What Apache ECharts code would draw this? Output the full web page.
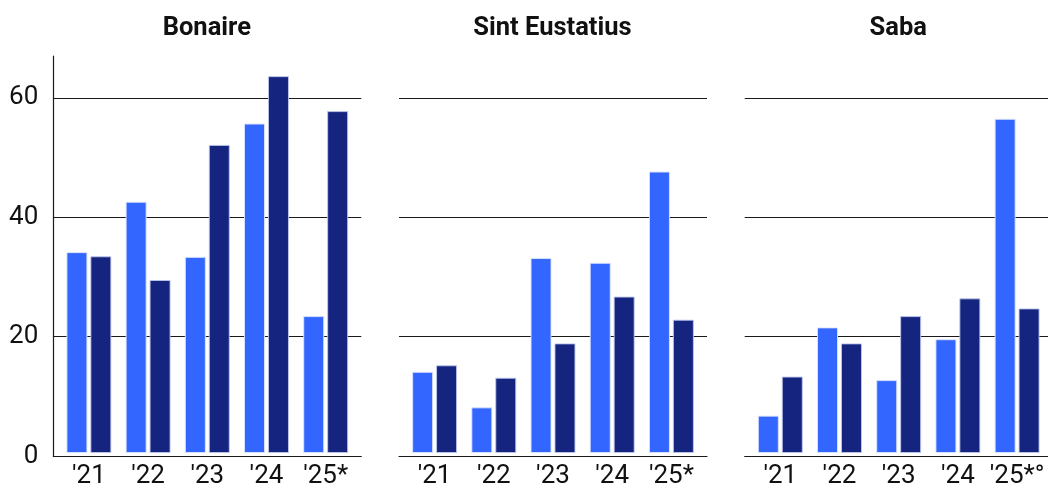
<!DOCTYPE html>
<html>
<head>
<meta charset="utf-8">
<script src="https://cdn.jsdelivr.net/npm/echarts@6/dist/echarts.min.js"></script>
<style>
html,body{margin:0;padding:0;background:#fff;}
#chart{width:1048px;height:489px;}
</style>
</head>
<body>
<div id="chart"></div>
<script>
// ---- data ----
const panelTitles = ['Bonaire', 'Sint Eustatius', 'Saba'];
const categoriesBonaire = ["'21", "'22", "'23", "'24", "'25*"];
const categoriesStatia = ["'21", "'22", "'23", "'24", "'25*"];
const categoriesSaba = ["'21", "'22", "'23", "'24", "'25*°"];
const bonaireLight = [33.9, 42.4, 33.1, 55.6, 23.1];
const bonaireDark = [33.2, 29.2, 52.0, 63.6, 57.7];
const statiaLight = [13.7, 7.7, 32.9, 32.1, 47.5];
const statiaDark = [14.8, 12.7, 18.5, 26.4, 22.5];
const sabaLight = [6.3, 21.2, 12.3, 19.2, 56.4];
const sabaDark = [12.9, 18.5, 23.1, 26.1, 24.4];
const yTicks = [0, 20, 40, 60];

// ---- layout / styles ----
const panelLefts = [53.3, 399, 744.7];
const panelWidth = 308;
const innerPad = 6;
const gridTop = 56, gridHeight = 400;
const yMax = 67;
const lightColor = '#3366FF';
const darkColor = '#14247F';
const lineColor = '#1a1a1a';
const textColor = '#111111';
const fontFamily = 'Roboto, "Noto Sans", sans-serif';

const panels = [
  {cats: categoriesBonaire, light: bonaireLight, dark: bonaireDark},
  {cats: categoriesStatia, light: statiaLight, dark: statiaDark},
  {cats: categoriesSaba, light: sabaLight, dark: sabaDark}
];

const grids = [], xAxes = [], yAxes = [], series = [], titles = [];
panels.forEach((p, i) => {
  const L = panelLefts[i];
  grids.push({left: L, top: gridTop, width: panelWidth, height: gridHeight, containLabel: false});
  grids.push({left: L + innerPad, top: gridTop, width: panelWidth - 2 * innerPad, height: gridHeight, containLabel: false});
  const gBg = i * 2, gIn = i * 2 + 1;
  xAxes.push({
    gridIndex: gBg, type: 'value', min: 0, max: 1,
    axisLine: {show: true, onZero: true, lineStyle: {color: lineColor, width: 1.2}},
    axisTick: {show: false}, axisLabel: {show: false}, splitLine: {show: false}
  });
  yAxes.push({
    gridIndex: gBg, type: 'value', min: 0, max: yMax, interval: 20,
    axisLine: {show: i === 0, lineStyle: {color: lineColor, width: 1.2}},
    axisTick: {show: false},
    axisLabel: {
      show: i === 0, showMaxLabel: false, margin: 15,
      color: textColor, fontSize: 26, fontFamily: fontFamily,
      formatter: v => (yTicks.indexOf(v) >= 0 ? String(v) : '')
    },
    splitLine: {show: true, showMinLine: false, showMaxLine: false, lineStyle: {color: lineColor, width: 1.2}}
  });
  xAxes.push({
    gridIndex: gIn, type: 'category', data: p.cats,
    axisLine: {show: false}, axisTick: {show: false},
    axisLabel: {color: textColor, fontSize: 26, fontFamily: fontFamily, margin: 10, interval: 0},
    splitLine: {show: false}
  });
  yAxes.push({
    gridIndex: gIn, type: 'value', min: 0, max: yMax, show: false, splitLine: {show: false}
  });
  series.push({
    type: 'bar', xAxisIndex: gIn, yAxisIndex: gIn, data: p.light,
    barWidth: 21, barGap: '14%',
    itemStyle: {color: lightColor, borderColor: 'rgba(220,228,255,0.9)', borderWidth: 1},
    z: 3, silent: true
  });
  series.push({
    type: 'bar', xAxisIndex: gIn, yAxisIndex: gIn, data: p.dark,
    barWidth: 21, barGap: '14%',
    itemStyle: {color: darkColor, borderColor: 'rgba(190,198,235,0.9)', borderWidth: 1},
    z: 3, silent: true
  });
  titles.push({
    text: panelTitles[i], left: L + panelWidth / 2 - 5.5, top: 11, textAlign: 'center',
    textStyle: {fontSize: 25.5, fontWeight: 'bold', color: textColor, fontFamily: fontFamily}
  });
});

const chart = echarts.init(document.getElementById('chart'), null, {renderer: 'canvas'});
chart.setOption({
  animation: false,
  backgroundColor: '#ffffff',
  title: titles,
  grid: grids,
  xAxis: xAxes,
  yAxis: yAxes,
  series: series
});
</script>
</body>
</html>
